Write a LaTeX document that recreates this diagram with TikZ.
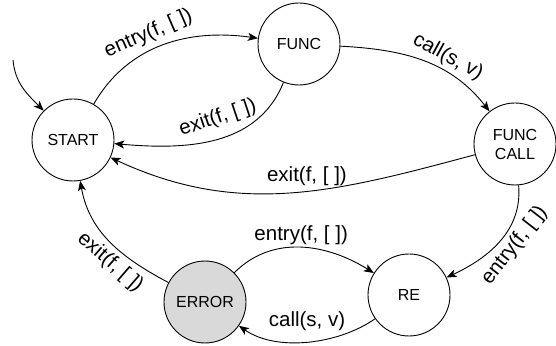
\documentclass[tikz,border=0pt]{standalone}
\usepackage{fontspec}
\setmainfont{Liberation Sans}
\usetikzlibrary{arrows.meta}
\definecolor{errfill}{RGB}{217,217,217}

\begin{document}
\begin{tikzpicture}[x=1pt,y=1pt,line width=0.9pt,
		>={Stealth[length=10pt,width=8pt,inset=2.5pt]},
		state/.style={circle,draw,minimum size=82pt,inner sep=0pt,align=center,font=\fontsize{16}{19}\selectfont},
		lbl/.style={font=\fontsize{20.5}{24}\selectfont,inner sep=2pt}]
		\useasboundingbox (0,0) rectangle (556,345);
		\node (strt) [state]               at (73,205)  {START};
		\node (func) [state]               at (299,301) {FUNC};
		\node (fcal) [state]               at (515,201) {FUNC\\CALL};
		\node (errr) [state,fill=errfill]  at (205,43)  {ERROR};
		\node (rent) [state]               at (409,50)  {RE};
		\coordinate (init) at (13,285);
		\draw (init) edge[->,out=-85,in=135] (strt);
		\draw (strt) edge[->,out=60,in=172] node[lbl,sloped,above=4pt,pos=0.45] {entry(f, [ ])} (func);
		\draw (func) edge[->,out=-112,in=-5] node[lbl,sloped,above=8pt,pos=0.45] {exit(f, [ ])} (strt);
		\draw (func) edge[->,out=-3,in=128] node[lbl,sloped,above=2pt,pos=0.62] {call(s, v)} (fcal);
		\draw (fcal) edge[->,out=195,in=-25] node[lbl,above=3pt,pos=0.45] {exit(f, [ ])} (strt);
		\draw (fcal) edge[->,out=-85,in=25] node[lbl,sloped,below=2pt,pos=0.45] {entry(f, [ ])} (rent);
		\draw (errr) edge[->,out=152,in=-80] node[lbl,sloped,below=3pt,pos=0.4] {exit(f, [ ])} (strt);
		\draw (errr) edge[->,out=45,in=148] node[lbl,above] {entry(f, [ ])} (rent);
		\draw (rent) edge[->,out=-145,in=-35,looseness=0.85] node[lbl,above=9pt] {call(s, v)} (errr);
	\end{tikzpicture}
\end{document}
